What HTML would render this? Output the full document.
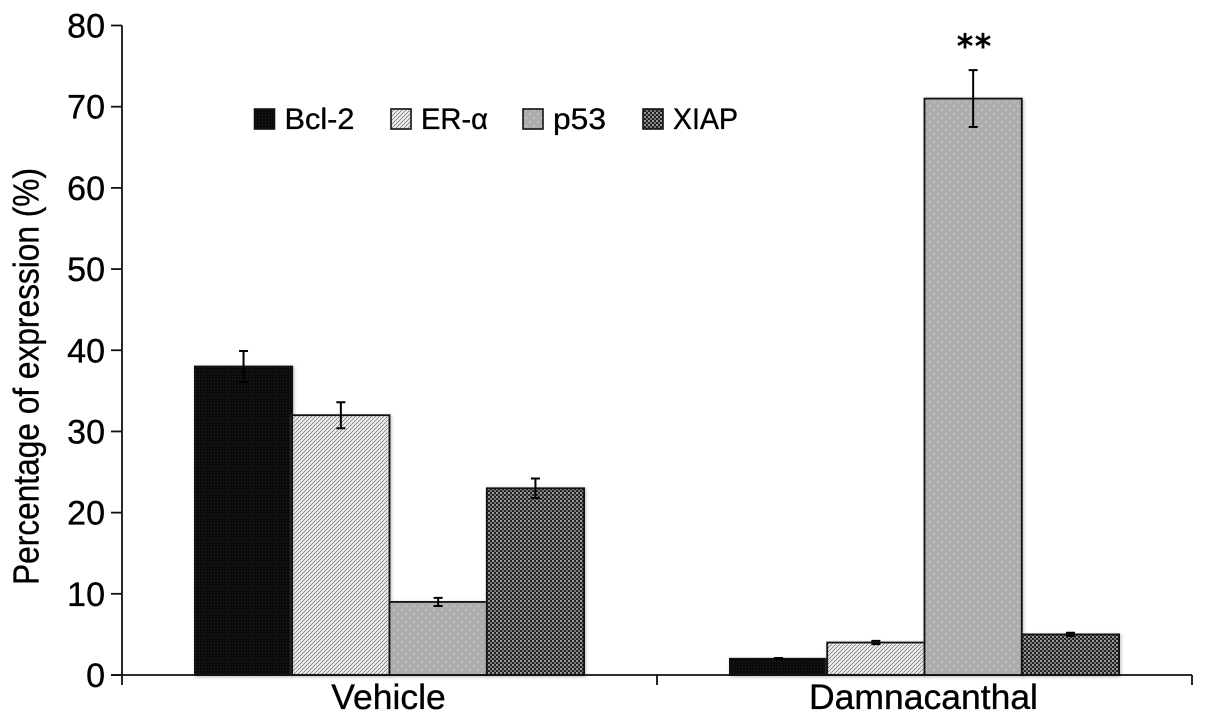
<!DOCTYPE html>
<html>
<head>
<meta charset="utf-8">
<title>Percentage of expression</title>
<style>
html,body{margin:0;padding:0;background:#fff;}
svg{display:block;font-family:"Liberation Sans",sans-serif;fill:#000;}
svg text{stroke:#000;stroke-width:0.35px;}
</style>
</head>
<body>
<svg id="chart" width="1205" height="722" viewBox="0 0 1205 722" xmlns="http://www.w3.org/2000/svg">
<defs>
<pattern id="pat-bcl2" width="3" height="3" patternUnits="userSpaceOnUse"><rect width="3" height="3" fill="#0b0b0b"/><rect x="1" y="1" width="1" height="1" fill="#222"/></pattern>
<pattern id="pat-era" width="4" height="4" patternUnits="userSpaceOnUse"><rect width="4" height="4" fill="#e2e2e2"/><rect x="0" y="3" width="1" height="1" fill="#8a8a8a"/><rect x="1" y="2" width="1" height="1" fill="#9a9a9a"/><rect x="2" y="1" width="1" height="1" fill="#7c7c7c"/><rect x="3" y="0" width="1" height="1" fill="#9a9a9a"/><rect x="1" y="0" width="1" height="1" fill="#f6f6f6"/><rect x="3" y="2" width="1" height="1" fill="#f6f6f6"/></pattern>
<pattern id="pat-p53" width="8" height="8" patternUnits="userSpaceOnUse"><rect width="8" height="8" fill="#adadad"/><rect x="1" y="1" width="2" height="2" fill="#c2c2c2"/><rect x="5" y="5" width="2" height="2" fill="#c2c2c2"/></pattern>
<pattern id="pat-xiap" width="4" height="4" patternUnits="userSpaceOnUse"><rect width="4" height="4" fill="#222"/><rect x="0" y="0" width="2" height="2" fill="#999"/><rect x="2" y="2" width="2" height="2" fill="#777"/></pattern>
</defs>
<g id="bars"></g>
<g id="errors"></g>
<g id="axes"></g>
<text transform="translate(38.5,585) rotate(-90)" font-size="36" textLength="417" lengthAdjust="spacingAndGlyphs">Percentage of expression (%)</text>
<text x="975" y="57" font-size="32" text-anchor="middle" letter-spacing="2" style="font-family:'DejaVu Sans',sans-serif;stroke-width:1px">**</text>
<g id="legend"></g>
</svg>
<script>
const categories = ['Vehicle', 'Damnacanthal'];
const seriesNames = ['Bcl-2', 'ER-α', 'p53', 'XIAP'];
const bcl2Values = [38, 2];
const eraValues = [32, 4];
const p53Values = [9, 71];
const xiapValues = [23, 5];
const bcl2Errors = [1.9, 0.1];
const eraErrors = [1.6, 0.2];
const p53Errors = [0.5, 3.5];
const xiapErrors = [1.2, 0.2];
const yTickLabels = [0, 10, 20, 30, 40, 50, 60, 70, 80];

const NS = 'http://www.w3.org/2000/svg';
const values = [bcl2Values, eraValues, p53Values, xiapValues];
const errors = [bcl2Errors, eraErrors, p53Errors, xiapErrors];
const fills = ['url(#pat-bcl2)', 'url(#pat-era)', 'url(#pat-p53)', 'url(#pat-xiap)'];
const keys = ['bcl2', 'era', 'p53', 'xiap'];

const plotLeft = 122, plotRight = 1192, plotBottom = 675, plotTop = 25.5, yMax = 80;
const barWidth = 97.3;
function yScale(v) { return plotBottom - (v / yMax) * (plotBottom - plotTop); }
function groupWidth() { return (plotRight - plotLeft) / categories.length; }
function xCenter(i) { return plotLeft + groupWidth() * (i + 0.5); }
function xBar(i, s) { return xCenter(i) + (s - seriesNames.length / 2) * barWidth; }

function make(tag, attrs, parent) {
  const el = document.createElementNS(NS, tag);
  for (const k in attrs) el.setAttribute(k, attrs[k]);
  parent.appendChild(el);
  return el;
}

const barsG = document.getElementById('bars');
const errorsG = document.getElementById('errors');
const axesG = document.getElementById('axes');
const legendG = document.getElementById('legend');

values.forEach(function (series, s) {
  series.forEach(function (v, i) {
    const r = make('rect', {
      x: xBar(i, s), y: yScale(v), width: barWidth, height: plotBottom - yScale(v),
      fill: fills[s], stroke: '#111', 'stroke-width': 1.8,
      style: 'filter:drop-shadow(1.5px 1.5px 1.5px #bbb)'
    }, barsG);
    
    

    const cx = xBar(i, s) + barWidth / 2;
    const hi = yScale(v + errors[s][i]);
    const lo = yScale(v - errors[s][i]);
    const e = make('path', {
      d: 'M' + (cx - 4.5) + ' ' + hi + 'H' + (cx + 4.5) + 'M' + cx + ' ' + hi + 'V' + lo + 'M' + (cx - 4.5) + ' ' + lo + 'H' + (cx + 4.5),
      fill: 'none', stroke: '#000', 'stroke-width': 2
    }, errorsG);
    
    
  });
});

const yAxis = make('line', { x1: plotLeft, x2: plotLeft, y1: plotTop, y2: plotBottom, stroke: '#111', 'stroke-width': 1.8 }, axesG);


const xAxis = make('line', { x1: plotLeft - 11, x2: plotRight, y1: plotBottom, y2: plotBottom, stroke: '#111', 'stroke-width': 1.8 }, axesG);



yTickLabels.forEach(function (t) {
  const y = yScale(t);
  const tick = make('line', { x1: plotLeft - 11, x2: plotLeft, y1: y, y2: y, stroke: '#111', 'stroke-width': 1.8 }, axesG);
  
  
  const label = make('text', { x: 105, y: y + 12, 'font-size': 34, 'text-anchor': 'end' }, axesG);
  label.textContent = t;
  
  
});

for (let i = 0; i <= categories.length; i++) {
  const x = plotLeft + groupWidth() * i;
  const tick = make('line', { x1: x, x2: x, y1: plotBottom, y2: plotBottom + 10, stroke: '#111', 'stroke-width': 1.8 }, axesG);
  
  
}
categories.forEach(function (c, i) {
  const label = make('text', { x: xCenter(i) - 1, y: 709, 'font-size': 35.5, 'text-anchor': 'middle' }, axesG);
  label.textContent = c;
  
  
});

const legendSwatchX = [254.5, 391, 523, 643];
const legendTextWidth = [70, 67, 53, 65];
seriesNames.forEach(function (name, s) {
  const sw = make('rect', { x: legendSwatchX[s], y: 109, width: 20, height: 20, fill: fills[s], stroke: '#111', 'stroke-width': 1.6 }, legendG);
  
  
  const label = make('text', { x: legendSwatchX[s] + 30, y: 129, 'font-size': 30, textLength: legendTextWidth[s], lengthAdjust: 'spacingAndGlyphs' }, legendG);
  label.textContent = name;
  
  
});
</script>
</body>
</html>
